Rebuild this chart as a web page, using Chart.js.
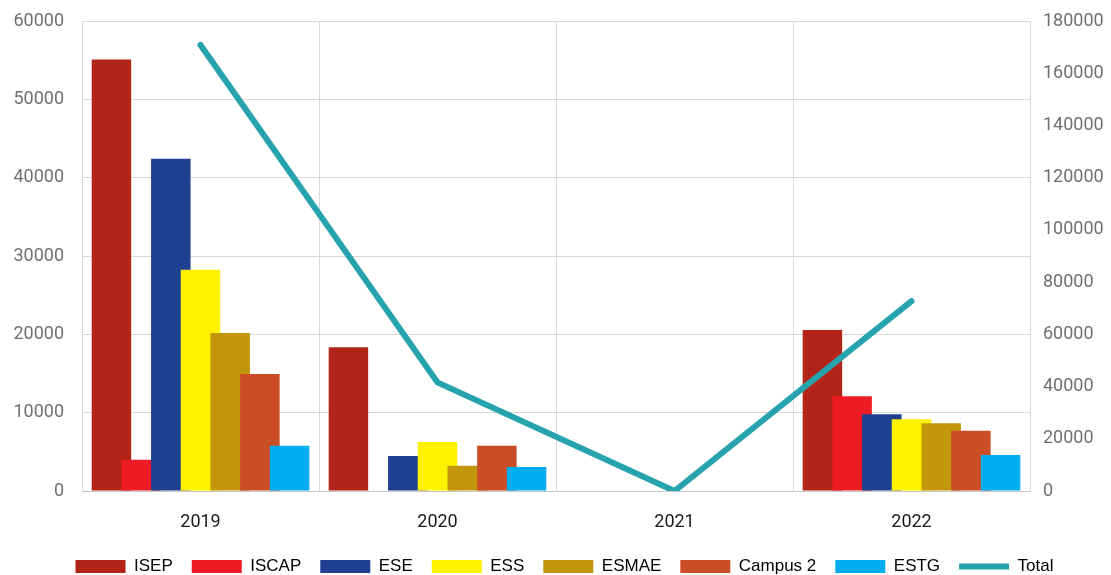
<!DOCTYPE html>
<html>
<head>
<meta charset="utf-8">
<script src="https://cdn.jsdelivr.net/npm/chart.js@4/dist/chart.umd.min.js"></script>
<style>
  html, body { margin: 0; padding: 0; background: #fff; }
  #wrap { width: 1111px; height: 575px; }
</style>
</head>
<body>
<div id="wrap"><canvas id="chart"></canvas></div>
<script>
const years = ["2019", "2020", "2021", "2022"];

const isep = [55100, 18340, 0, 20550];
const iscap = [4000, 0, 0, 12080];
const ese = [42400, 4470, 0, 9790];
const ess = [28250, 6260, 0, 9150];
const esmae = [20170, 3230, 0, 8640];
const campus2 = [14940, 5790, 0, 7700];
const estg = [5790, 3060, 0, 4600];
const total = [170800, 41600, 0, 72700];

const gridColor = "#d9d9d9";
const tickFont = { family: "Roboto, 'Open Sans', sans-serif", size: 18 };
const legendFont = { family: "'Liberation Sans', Arial, sans-serif", size: 17 };

function bar(label, data, color) {
  return {
    type: "bar",
    label: label,
    data: data,
    backgroundColor: color,
    borderWidth: 0,
    pointStyle: "rect",
    yAxisID: "y"
  };
}

// later datasets are painted over earlier ones, like the original
const drawInOrder = {
  id: "drawInOrder",
  beforeDatasetsDraw(chart) {
    chart.getSortedVisibleDatasetMetas().forEach((meta) => {
      if (chart._drawDataset) chart._drawDataset(meta);
      else meta.controller.draw();
    });
    return false;
  }
};

// squeeze the legend to the bottom edge and nudge it right a little
const legendPlace = {
  id: "legendPlace",
  beforeLayout(chart) {
    const legend = chart.legend;
    if (!legend || legend._patched) return;
    const fit = legend.fit;
    legend.fit = function () {
      fit.call(this);
      this.height = 36;
    };
    legend._patched = true;
  },
  afterLayout(chart) {
    if (!chart.legend) return;
    chart.legend.left += 9;
    chart.legend.right += 9;
  }
};

function fixY(width) {
  return (scale) => {
    scale.width = width;
    scale.paddingTop = 21;
    scale.paddingBottom = 0;
  };
}

new Chart(document.getElementById("chart"), {
  data: {
    labels: years,
    datasets: [
      bar("ISEP", isep, "#b22418"),
      bar("ISCAP", iscap, "#ed1c24"),
      bar("ESE", ese, "#1f3f91"),
      bar("ESS", ess, "#fff200"),
      bar("ESMAE", esmae, "#c4960c"),
      bar("Campus 2", campus2, "#c94e25"),
      bar("ESTG", estg, "#00aeef"),
      {
        type: "line",
        label: "Total",
        data: total,
        borderColor: "#26a3ad",
        backgroundColor: "#26a3ad",
        borderWidth: 6,
        borderCapStyle: "round",
        pointRadius: 0,
        pointStyle: "line",
        tension: 0,
        yAxisID: "y1"
      }
    ]
  },
  options: {
    responsive: true,
    maintainAspectRatio: false,
    animation: false,
    categoryPercentage: 0.877,
    barPercentage: 1.33,
    layout: {
      padding: { top: 0, left: 0, right: 0, bottom: 0 }
    },
    plugins: {
      tooltip: { enabled: false },
      legend: {
        position: "bottom",
        labels: {
          usePointStyle: true,
          pointStyleWidth: 50,
          boxHeight: 13,
          padding: 19,
          color: "#000",
          font: legendFont
        }
      }
    },
    scales: {
      x: {
        grid: { color: gridColor, offset: true, drawTicks: false },
        border: { color: "#c8c8c8" },
        ticks: { color: "#1a1a1a", font: tickFont, padding: 21 },
        afterFit: (scale) => { scale.height = 48; }
      },
      y: {
        position: "left",
        min: 0,
        max: 60000,
        ticks: { stepSize: 10000, color: "#707070", font: tickFont, padding: 18, callback: (v) => String(v) },
        grid: { color: gridColor, drawTicks: false },
        border: { color: gridColor },
        afterFit: fixY(82)
      },
      y1: {
        position: "right",
        min: 0,
        max: 180000,
        ticks: { stepSize: 20000, color: "#707070", font: tickFont, padding: 13, callback: (v) => String(v) },
        grid: { drawOnChartArea: false, drawTicks: false },
        border: { color: gridColor },
        afterFit: fixY(81)
      }
    }
  },
  plugins: [drawInOrder, legendPlace]
});
</script>
</body>
</html>
